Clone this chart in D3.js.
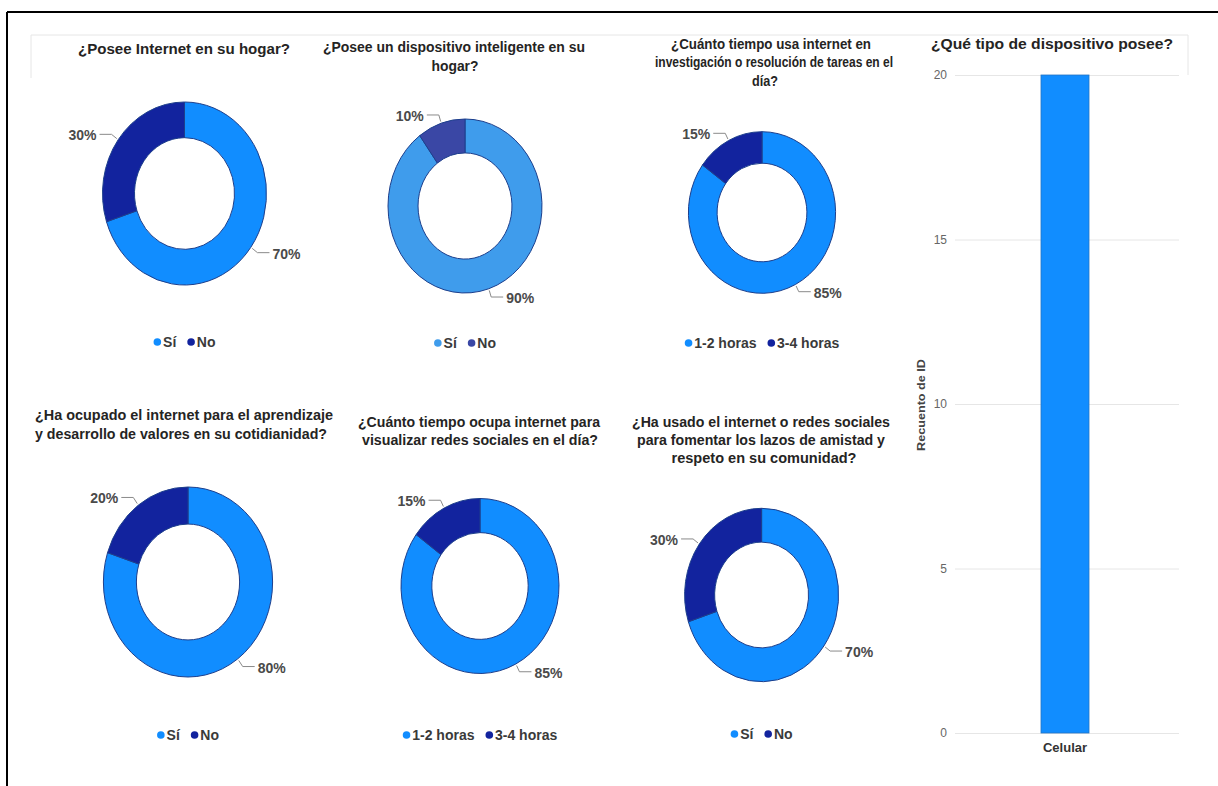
<!DOCTYPE html>
<html><head><meta charset="utf-8">
<script src="https://cdn.jsdelivr.net/npm/d3@7"></script>
<style>
html,body{margin:0;padding:0;background:#fff;}
svg{display:block;font-family:"Liberation Sans",Arial,sans-serif;}
</style>
</head><body>
<svg id="chart" width="1218" height="786"></svg>
<script>
// ---------------- DATA ----------------
const donutTitles = [
  ["¿Posee Internet en su hogar?"],
  ["¿Posee un dispositivo inteligente en su", "hogar?"],
  ["¿Cuánto tiempo usa internet en", "investigación o resolución de tareas en el", "día?"],
  ["¿Ha ocupado el internet para el aprendizaje", "y desarrollo de valores en su cotidianidad?"],
  ["¿Cuánto tiempo ocupa internet para", "visualizar redes sociales en el día?"],
  ["¿Ha usado el internet o redes sociales", "para fomentar los lazos de amistad y", "respeto en su comunidad?"]
];
const siNo = ["Sí", "No"];
const horas = ["1-2 horas", "3-4 horas"];
const donutCategories = [siNo, siNo, horas, siNo, horas, siNo];
const donutValues = [[70, 30], [90, 10], [85, 15], [80, 20], [85, 15], [70, 30]];

const barTitle = "¿Qué tipo de dispositivo posee?";
const barCategories = ["Celular"];
const barValues = [20];
const barTicks = [0, 5, 10, 15, 20];
const barAxisTitle = "Recuento de ID";

// ---------------- LAYOUT / STYLE ----------------
const donutLayout = [
  {cx: 184.5, cy: 193.5, rx: 82,   ry: 91.5, legY: 342},
  {cx: 465,   cy: 206,   rx: 77,   ry: 87,   legY: 343},
  {cx: 762,   cy: 212.5, rx: 73.6, ry: 80.8, legY: 343},
  {cx: 188,   cy: 582,   rx: 84.6, ry: 95,   legY: 735},
  {cx: 480,   cy: 586,   rx: 79,   ry: 87.5, legY: 735},
  {cx: 761.6, cy: 595,   rx: 77,   ry: 86.7, legY: 734}
];
const titleLayout = [
  {cx: [184], y: [49], w: [212]},
  {cx: [454, 455], y: [47, 66], w: [262, 47]},
  {cx: [771, 774, 765], y: [44, 62, 81], w: [200, 238, 26]},
  {cx: [184, 181], y: [415, 434], w: [298, 292]},
  {cx: [479, 480], y: [422, 440], w: [242, 236]},
  {cx: [761, 761, 764], y: [422, 440, 458], w: [258, 248, 185]}
];
const donutColors = [
  ["#118DFF", "#12239E"],
  ["#3F9CEC", "#3A47A5"],
  ["#118DFF", "#12239E"],
  ["#118DFF", "#12239E"],
  ["#118DFF", "#12239E"],
  ["#118DFF", "#12239E"]
];
const innerRatio = 0.61;

const svg = d3.select("#chart");

// frame
svg.append("line").attr("x1", 7).attr("x2", 1218).attr("y1", 12).attr("y2", 12)
  .attr("stroke", "#000").attr("stroke-width", 2);
svg.append("line").attr("x1", 7).attr("x2", 7).attr("y1", 12).attr("y2", 786)
  .attr("stroke", "#000").attr("stroke-width", 2);
// faint visual header borders
const faint = svg.append("g").attr("stroke", "#e6e6e6").attr("stroke-width", 1).attr("fill", "none");
faint.append("path").attr("d", "M31,78V35H1188V75");

// titles
function drawTitle(lines, lay) {
  lines.forEach((t, i) => {
    svg.append("text")
      .attr("x", lay.cx[i]).attr("y", lay.y[i])
      .attr("text-anchor", "middle").attr("dominant-baseline", "central")
      .attr("font-size", 14).attr("font-weight", "bold").attr("fill", "#252423")
      .attr("textLength", lay.w[i]).attr("lengthAdjust", "spacingAndGlyphs")
      .text(t);
  });
}

const pct = d3.format(".0%");

donutValues.forEach((vals, k) => {
  const L = donutLayout[k];
  const cats = donutCategories[k];
  const cols = donutColors[k];
  const color = d3.scaleOrdinal().domain(cats).range(cols);
  const data = cats.map((c, i) => ({cat: c, value: vals[i]}));
  const total = d3.sum(vals);

  drawTitle(donutTitles[k], titleLayout[k]);

  const pie = d3.pie().sort(null).value(d => d.value);
  const arcs = pie(data);
  const arc = d3.arc().innerRadius(L.rx * innerRatio).outerRadius(L.rx);

  const g = svg.append("g").attr("transform", `translate(${L.cx},${L.cy}) scale(1,${L.ry / L.rx})`);
  g.selectAll("path").data(arcs).join("path")
    .attr("d", arc)
    .attr("fill", d => color(d.data.cat))
    .attr("stroke", "#1d3f8c").attr("stroke-width", 1)
    .attr("vector-effect", "non-scaling-stroke");

  // labels with leader lines
  arcs.forEach(a => {
    const m = (a.startAngle + a.endAngle) / 2;
    const sx = Math.sin(m), sy = -Math.cos(m);
    const p0 = [L.cx + sx * L.rx * 1.02, L.cy + sy * L.ry * 1.02];
    const p1 = [L.cx + sx * L.rx * 1.1, L.cy + sy * L.ry * 1.1];
    const dir = sx >= 0 ? 1 : -1;
    const p2 = [p1[0] + dir * 12, p1[1]];
    svg.append("polyline")
      .attr("points", [p0, p1, p2].map(p => p.join(",")).join(" "))
      .attr("fill", "none").attr("stroke", "#8a8a8a").attr("stroke-width", 1);
    svg.append("text")
      .attr("x", p2[0] + dir * 3).attr("y", p2[1] + 1)
      .attr("text-anchor", dir > 0 ? "start" : "end")
      .attr("dominant-baseline", "central")
      .attr("font-size", 14).attr("font-weight", "bold").attr("fill", "#4a4a4a")
      .text(pct(a.data.value / total));
  });

  // legend
  const lg = svg.append("g");
  let x = 0;
  cats.forEach((c, i) => {
    lg.append("circle").attr("cx", x + 3.8).attr("cy", 0).attr("r", 3.8).attr("fill", color(c));
    const t = lg.append("text").attr("x", x + 9.5).attr("y", 0)
      .attr("dominant-baseline", "central")
      .attr("font-size", 14).attr("font-weight", "bold").attr("fill", "#3a3a3a")
      .text(c);
    x += 9.5 + t.node().getComputedTextLength() + (i < cats.length - 1 ? 11 : 0);
  });
  lg.attr("transform", `translate(${L.cx - x / 2},${L.legY})`);
});

// ---------------- BAR CHART ----------------
svg.append("text")
  .attr("x", 1052).attr("y", 44)
  .attr("text-anchor", "middle").attr("dominant-baseline", "central")
  .attr("font-size", 14).attr("font-weight", "bold").attr("fill", "#252423")
  .attr("textLength", 242).attr("lengthAdjust", "spacingAndGlyphs")
  .text(barTitle);

const plotL = 955, plotR = 1179;
const y = d3.scaleLinear().domain([0, d3.max(barTicks)]).range([733, 75]);
const xb = d3.scaleBand().domain(barCategories).range([953, 1177]).padding(0.647);

const yAxis = svg.append("g").attr("transform", `translate(${plotL},0)`)
  .call(d3.axisLeft(y).tickValues(barTicks).tickSize(-(plotR - plotL)).tickPadding(8).tickFormat(d3.format("d")));
yAxis.select(".domain").remove();
yAxis.selectAll(".tick line").attr("stroke", "#e6e6e6");
yAxis.selectAll(".tick text").attr("font-size", 12).attr("fill", "#666").attr("font-family", "Liberation Sans, Arial, sans-serif");

svg.append("g").selectAll("rect").data(barValues).join("rect")
  .attr("x", (d, i) => xb(barCategories[i]))
  .attr("width", xb.bandwidth())
  .attr("y", d => y(d))
  .attr("height", d => y(0) - y(d))
  .attr("fill", "#118DFF").attr("stroke", "#2374c4").attr("stroke-width", 0.8);

const xAxis = svg.append("g").attr("transform", `translate(0,${y(0)})`)
  .call(d3.axisBottom(xb).tickSize(0).tickPadding(10));
xAxis.select(".domain").remove();
xAxis.selectAll(".tick text").attr("font-size", 13).attr("font-weight", "bold").attr("fill", "#333")
  .attr("font-family", "Liberation Sans, Arial, sans-serif");

svg.append("text")
  .attr("transform", "translate(921,405) rotate(-90)")
  .attr("text-anchor", "middle").attr("dominant-baseline", "central")
  .attr("font-size", 10).attr("font-weight", "bold").attr("fill", "#444")
  .attr("textLength", 92).attr("lengthAdjust", "spacingAndGlyphs")
  .text(barAxisTitle);
</script>
</body></html>
